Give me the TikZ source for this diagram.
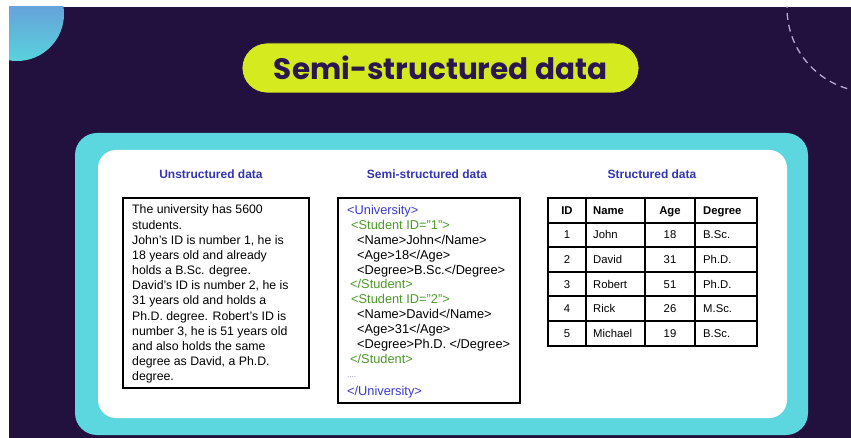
\documentclass[tikz,border=0pt]{standalone}
\usepackage{fontspec}
\setmainfont{Liberation Sans}
\newfontfamily\poppins{Poppins}
\definecolor{bgc}{HTML}{22113F}
\definecolor{circtop}{HTML}{7080DA}
\definecolor{circbot}{HTML}{58D2DC}
\definecolor{arcc}{HTML}{B7A8D8}
\definecolor{panelc}{HTML}{5CD6DF}
\definecolor{pillc}{HTML}{D6EB1F}
\definecolor{titlec}{HTML}{2A1750}
\definecolor{headc}{HTML}{3434B4}
\definecolor{xmlblue}{HTML}{3A3AD2}
\definecolor{xmlgreen}{HTML}{4C9A2A}
\definecolor{dotc}{HTML}{8A8FB8}
\tikzset{
  pill/.style={rectangle, rounded corners=25pt, fill=pillc, draw=bgc, line width=0.8pt,
    minimum width=397pt, minimum height=50pt, text=titlec,
    font=\poppins\bfseries\fontsize{29.5}{30}\selectfont},
  heading/.style={anchor=base, text=headc, inner sep=0pt,
    font=\bfseries\fontsize{12}{13}\selectfont},
  databox/.style={rectangle, draw=black, line width=2pt, fill=white, anchor=north west, inner sep=0pt},
  utext/.style={anchor=base west, inner sep=0pt, font=\fontsize{12.3}{14}\selectfont},
  xtext/.style={anchor=base west, inner sep=0pt, font=\fontsize{12.8}{14}\selectfont},
  ttext/.style={anchor=base, inner sep=0pt, font=\fontsize{11.3}{13}\selectfont},
  tleft/.style={anchor=base west, inner sep=0pt, font=\fontsize{11.3}{13}\selectfont},
  thead/.style={font=\bfseries\fontsize{11.3}{13}\selectfont},
  tline/.style={draw=black, line width=1.4pt},
  dashedarc/.style={draw=arcc, line width=1.3pt, dash pattern=on 7pt off 5pt},
}
\begin{document}
\begin{tikzpicture}[x=1pt,y=-1pt]
\useasboundingbox (0,0) rectangle (851,438);
\fill[white] (0,0) rectangle (851,438);
\fill[bgc] (9,7) rectangle (851,438);
\begin{scope}
  \clip (9,7) rectangle (851,438);
  \shade[top color=circtop, bottom color=circbot] (17,14) circle[radius=47];
  \draw[dashedarc] (871,8) circle[radius=84];
\end{scope}

% title
\node[pill] (title) at (440.5,68) {Semi-structured data};

% panel
\fill[panelc, rounded corners=22pt] (75,133) rectangle (808,435);
\fill[white, rounded corners=18pt] (98,150) rectangle (787,418);

% headings
\node[heading] (h1) at (211,179) {Unstructured data};
\node[heading] (h2) at (427,179) {Semi-structured data};
\node[heading] (h3) at (652,179) {Structured data};

% unstructured box
\node[databox, minimum width=186pt, minimum height=190pt] (ubox) at (122,197) {};
\foreach \t [count=\k] in {
  The university has 5600,
  students.,
  John's ID is number 1{,} he is,
  18 years old and already,
  holds a B.Sc. degree.,
  David's ID is number 2{,} he is,
  31 years old and holds a,
  Ph.D. degree. Robert's ID is,
  number 3{,} he is 51 years old,
  and also holds the same,
  degree as David{,} a Ph.D.,
  degree.}
  \node[utext] (u\k) at (132,{214+(\k-1)*15.15}) {\t};

% semi-structured box
\node[databox, minimum width=182pt, minimum height=205pt] (sbox) at (337,197) {};
\node[xtext, text=xmlblue] (x1) at (347,215) {<University>};
\node[xtext, text=xmlgreen] (x2) at (351,229.8) {<Student ID=”1”>};
\node[xtext] (x3) at (357,244.6) {<Name>John</Name>};
\node[xtext] (x4) at (357,259.4) {<Age>18</Age>};
\node[xtext] (x5) at (357,274.2) {<Degree>B.Sc.</Degree>};
\node[xtext, text=xmlgreen] (x6) at (350,289) {</Student>};
\node[xtext, text=xmlgreen] (x7) at (351,303.8) {<Student ID=”2”>};
\node[xtext] (x8) at (357,318.6) {<Name>David</Name>};
\node[xtext] (x9) at (357,333.4) {<Age>31</Age>};
\node[xtext] (x10) at (357,348.2) {<Degree>Ph.D. </Degree>};
\node[xtext, text=xmlgreen] (x11) at (350,363) {</Student>};
\node[xtext, text=dotc, font=\fontsize{8}{9}\selectfont] (x12) at (347,377.5) {....};
\node[xtext, text=xmlblue] (x13) at (347,395) {</University>};

% structured table
\draw[tline, line width=2pt] (548,198) rectangle (757,346);
\foreach \yy in {223,247,272,296,321}
  \draw[tline] (548,\yy) -- (757,\yy);
\foreach \xx in {586,645,695}
  \draw[tline] (\xx,198) -- (\xx,346);
\node[ttext, thead] (th1) at (567,214.5) {ID};
\node[tleft, thead] (th2) at (593,214.5) {Name};
\node[ttext, thead] (th3) at (670,214.5) {Age};
\node[tleft, thead] (th4) at (703,214.5) {Degree};
\foreach \id/\nm/\ag/\dg/\yy in {1/John/18/B.Sc./239,2/David/31/Ph.D./263.5,3/Robert/51/Ph.D./288,4/Rick/26/M.Sc./312.5,5/Michael/19/B.Sc./337.5}{
  \node[ttext] (ta\id) at (567,\yy) {\id};
  \node[tleft] (tb\id) at (593,\yy) {\nm};
  \node[ttext] (tc\id) at (670,\yy) {\ag};
  \node[tleft] (td\id) at (703,\yy) {\dg};
}
\end{tikzpicture}
\end{document}
